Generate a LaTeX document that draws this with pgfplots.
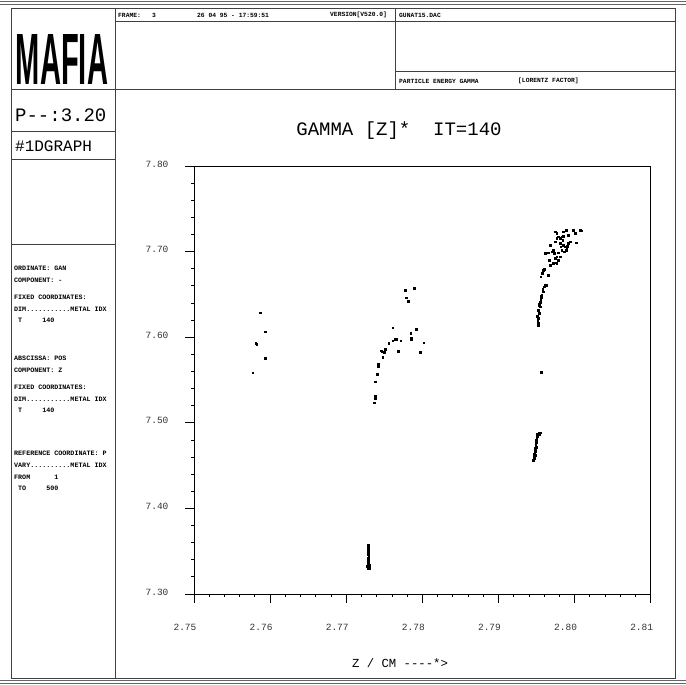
\documentclass[border=0pt]{standalone}
\usepackage{pgfplots}
\pgfplotsset{compat=1.18}
\usepackage{fontspec}
\setmainfont{Liberation Mono}
\newfontfamily\mono{Liberation Mono}
\newfontfamily\sans{Liberation Sans}
\newcommand{\dd}{-\kern0pt}
\begin{document}
\begin{tikzpicture}[x=1pt,y=1pt]
\path[use as bounding box] (0,0) rectangle (686,685);
% window double lines
\draw[black!60,line width=1pt] (0,683) -- (686,683);
\draw[black!60,line width=1pt] (0,680.5) -- (686,680.5);
\draw[black!60,line width=1pt] (0,4) -- (686,4);
\draw[black!60,line width=1pt] (0,1.5) -- (686,1.5);
% frame
\draw[black!75,line width=1pt] (11,676) rectangle (675,6);
\draw[black!75,line width=1pt] (115,676) -- (115,6);
\draw[black!75,line width=1pt] (11,595) -- (675,595);
\draw[black!75,line width=1pt] (395,676) -- (395,595);
\draw[black!75,line width=1pt] (115,663) -- (675,663);
\draw[black!75,line width=1pt] (395,613) -- (675,613);
\draw[black!75,line width=1pt] (11,553) -- (115,553);
\draw[black!75,line width=1pt] (11,525) -- (115,525);
\draw[black!75,line width=1pt] (11,440) -- (115,440);
% header texts
\begin{scope}[every node/.style={anchor=west,inner sep=0pt,font=\mono\bfseries\fontsize{6.3}{7}\selectfont}]
\node at (118,670) {FRAME:\ \ \ 3};
\node at (197,670) {26 04 95 \dd\ 17:59:51};
\node at (330,670) {VERSION[V520.0]};
\node at (399,670) {GUNAT15.DAC};
\node at (399,604) {PARTICLE ENERGY GAMMA};
\node at (518,604) {[LORENTZ FACTOR]};
\end{scope}
\node at (62,625) {\resizebox{92pt}{50pt}{\sans\bfseries MAFIA}};
\node[anchor=west,inner sep=0pt,font=\mono\fontsize{19}{20}\selectfont] at (15,570) {P\dd\dd:3.20};
\node[anchor=west,inner sep=0pt,font=\mono\fontsize{16}{17}\selectfont] at (15,539) {\#1DGRAPH};
\begin{scope}[every node/.style={anchor=west,inner sep=0pt,font=\mono\bfseries\fontsize{6.7}{7}\selectfont}]
\node at (14,417) {ORDINATE: GAN};
\node at (14,405) {COMPONENT: \dd};
\node at (14,388) {FIXED COORDINATES:};
\node at (14,376) {DIM...........METAL IDX};
\node at (14,365) {\ T\ \ \ \ \ 140};
\node at (14,327) {ABSCISSA: POS};
\node at (14,315) {COMPONENT: Z};
\node at (14,298) {FIXED COORDINATES:};
\node at (14,286) {DIM...........METAL IDX};
\node at (14,275) {\ T\ \ \ \ \ 140};
\node at (14,232) {REFERENCE COORDINATE: P};
\node at (14,220) {VARY..........METAL IDX};
\node at (14,208) {FROM\ \ \ \ \ \ 1};
\node at (14,197) {\ TO\ \ \ \ \ 500};
\end{scope}
\node[font=\mono\fontsize{19}{20}\selectfont] at (399,554) {GAMMA [Z]*\ \ IT=140};
\node[font=\mono\fontsize{12.3}{13}\selectfont] at (400,22) {Z / CM \dd\dd\dd\dd*>};
\begin{axis}[at={(194pt,91pt)},anchor=south west,scale only axis,
  width=456.7pt,height=428pt,
  xmin=2.75,xmax=2.81,ymin=7.30,ymax=7.80,
  xtick={2.75,2.76,2.77,2.78,2.79,2.80,2.81},
  ytick={7.30,7.40,7.50,7.60,7.70,7.80},
  minor tick num=4,
  tick align=outside,
  major tick length=9pt,minor tick length=3pt,
  xtick pos=left,ytick pos=left,
  axis line style={black,line width=0.8pt},
  every tick/.style={black,line width=0.8pt},
  /pgf/number format/assume math mode=true,
  /pgf/number format/.cd,fixed,fixed zerofill,precision=2,/pgfplots/.cd,
  ticklabel style={font=\mono\fontsize{9.5}{10}\selectfont,text=black!80},
  xticklabel style={anchor=center,xshift=-9pt,yshift=-24pt},
  yticklabel style={anchor=center,xshift=-28pt,yshift=2pt},
  clip=false]
\addplot[only marks,mark=square*,mark size=0.9pt,black] coordinates {
(2.75867,7.6286)(2.75933,7.6064)(2.75811,7.5929)(2.75824,7.5917)(2.75937,7.5753)(2.75771,7.5585)
(2.77772,7.6551)(2.77891,7.6571)(2.77785,7.6462)(2.77816,7.6423)(2.77611,7.6111)(2.77847,7.6046)
(2.77921,7.6092)(2.77853,7.5987)(2.77855,7.5975)(2.77558,7.5929)(2.77611,7.5960)(2.77641,7.5976)(2.77663,7.5976)
(2.77716,7.5960)(2.78018,7.5936)(2.77516,7.5859)(2.77463,7.5842)(2.77476,7.5830)(2.77496,7.5823)
(2.77680,7.5839)(2.77969,7.5823)(2.77479,7.5764)(2.77422,7.5687)(2.77422,7.5656)(2.77422,7.5672)
(2.77400,7.5570)(2.77410,7.5570)(2.77378,7.5480)(2.77378,7.5313)(2.77382,7.5287)(2.77365,7.5235)
(2.77290,7.3572)(2.77293,7.3537)(2.77290,7.3502)(2.77293,7.3467)(2.77295,7.3432)(2.77290,7.3397)
(2.77286,7.3374)(2.77281,7.3350)(2.77275,7.3327)(2.77295,7.3327)(2.77308,7.3315)(2.77303,7.3300)(2.77286,7.3304)
(2.77292,7.3555)(2.77291,7.3485)(2.77292,7.3415)(2.77300,7.3340)
(2.79458,7.4565)(2.79467,7.4600)(2.79474,7.4636)(2.79480,7.4671)(2.79484,7.4706)(2.79489,7.4741)
(2.79493,7.4776)(2.79502,7.4811)(2.79506,7.4846)(2.79510,7.4869)(2.79528,7.4881)(2.79546,7.4885)
(2.79493,7.4717)(2.79480,7.4624)(2.79470,7.4585)(2.79498,7.4795)(2.79512,7.4860)(2.79535,7.4870)
(2.79559,7.5593)
(2.79524,7.6143)(2.79515,7.6201)(2.79511,7.6248)(2.79533,7.6279)(2.79524,7.6318)(2.79546,7.6357)
(2.79537,7.6388)(2.79555,7.6435)(2.79559,7.6466)(2.79568,7.6493)(2.79590,7.6532)(2.79581,7.6559)
(2.79599,7.6590)(2.79612,7.6610)(2.79634,7.6610)(2.79555,7.6707)(2.79577,7.6746)(2.79590,7.6785)
(2.79603,7.6793)(2.79656,7.6727)(2.79677,7.6843)(2.79669,7.6902)(2.79612,7.6980)(2.79656,7.6988)
(2.79699,7.6999)(2.79721,7.7019)(2.79730,7.6980)(2.79743,7.6921)(2.79765,7.6941)(2.79787,7.6902)
(2.79756,7.6871)(2.79765,7.6863)(2.79677,7.7077)(2.79743,7.7116)(2.79765,7.7155)(2.79787,7.7174)
(2.79809,7.7155)(2.79831,7.7174)(2.79844,7.7136)(2.79809,7.7097)(2.79853,7.7077)(2.79875,7.7058)
(2.79896,7.7038)(2.79918,7.7097)(2.79940,7.7116)(2.79888,7.7019)(2.79831,7.7019)(2.79861,7.6999)
(2.79743,7.7233)(2.79853,7.7233)(2.79888,7.7252)(2.79918,7.7194)(2.79984,7.7252)(2.80006,7.7213)
(2.80072,7.7252)(2.80093,7.7245)(2.80019,7.7104)(2.79853,7.7182)(2.79765,7.7213)(2.79818,7.7058)
(2.79905,7.7065)(2.79787,7.6988)(2.79721,7.6863)(2.79809,7.6941)
(2.79520,7.6170)(2.79518,7.6225)(2.79528,7.6300)(2.79540,7.6370)(2.79550,7.6410)(2.79562,7.6480)
};
\end{axis}
\end{tikzpicture}
\end{document}
